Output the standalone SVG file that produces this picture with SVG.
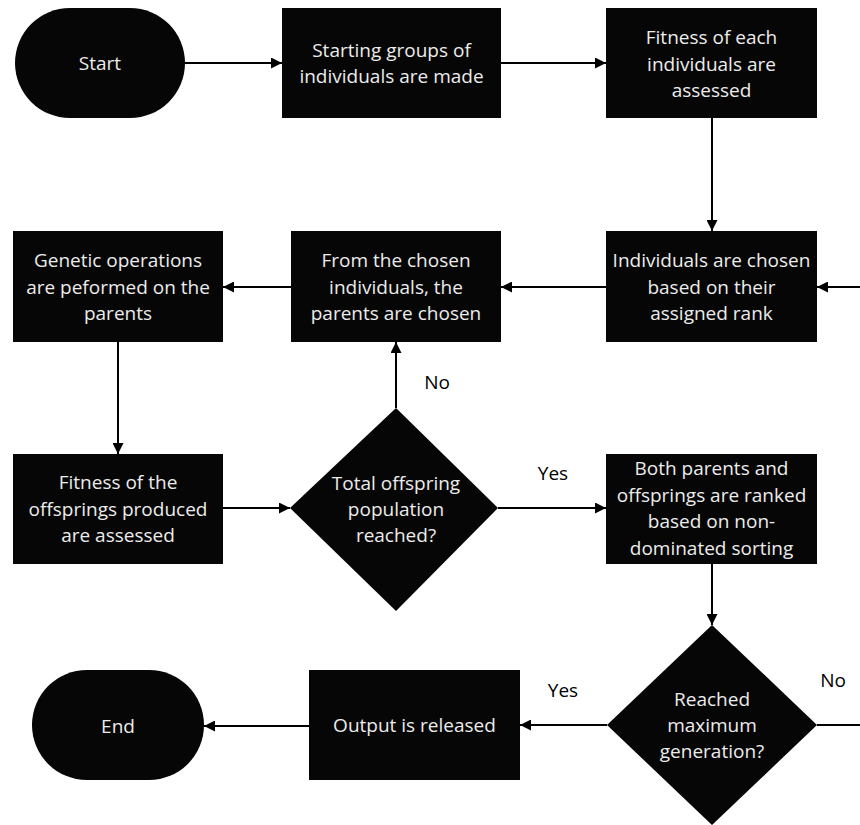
<svg xmlns="http://www.w3.org/2000/svg" width="860" height="825" viewBox="0 0 860 825">
  <style>
    .shape { fill: #060606; }
    .label { fill: #ececec; font-family: "Open Sans", "Liberation Sans", sans-serif; font-size: 19px; text-anchor: middle; }
    .edge { fill: none; stroke: #000; stroke-width: 2; }
    .tag { fill: #000; font-family: "Open Sans", "Liberation Sans", sans-serif; font-size: 19px; text-anchor: middle; }
  </style>
  <defs>
    <marker id="arrow" viewBox="0 0 10 10" refX="10" refY="5" markerWidth="5.5" markerHeight="5.5" orient="auto" markerUnits="strokeWidth">
      <path d="M0,0 L10,5 L0,10 z" fill="#000"/>
    </marker>
  </defs>
  <rect width="860" height="825" fill="#fff"/>

  <!-- connectors -->
  <g id="connectors">
    <line class="edge" x1="185" y1="63" x2="282" y2="63" marker-end="url(#arrow)"/>
    <line class="edge" x1="501" y1="63" x2="606" y2="63" marker-end="url(#arrow)"/>
    <line class="edge" x1="712" y1="118" x2="712" y2="231" marker-end="url(#arrow)"/>
    <line class="edge" x1="860" y1="287" x2="817" y2="287" marker-end="url(#arrow)"/>
    <line class="edge" x1="606" y1="287" x2="501" y2="287" marker-end="url(#arrow)"/>
    <line class="edge" x1="291" y1="287" x2="223" y2="287" marker-end="url(#arrow)"/>
    <line class="edge" x1="118" y1="342" x2="118" y2="454" marker-end="url(#arrow)"/>
    <line class="edge" x1="223" y1="508" x2="290" y2="508" marker-end="url(#arrow)"/>
    <line class="edge" x1="396" y1="408" x2="396" y2="342" marker-end="url(#arrow)"/>
    <line class="edge" x1="498" y1="508" x2="606" y2="508" marker-end="url(#arrow)"/>
    <line class="edge" x1="712" y1="564" x2="712" y2="625" marker-end="url(#arrow)"/>
    <line class="edge" x1="607" y1="725" x2="520" y2="725" marker-end="url(#arrow)"/>
    <line class="edge" x1="309" y1="726" x2="204" y2="726" marker-end="url(#arrow)"/>
    <line class="edge" x1="817" y1="725" x2="860" y2="725"/>
    <text class="tag" x="437" y="389">No</text>
    <text class="tag" x="553" y="480">Yes</text>
    <text class="tag" x="563" y="697">Yes</text>
    <text class="tag" x="833" y="687">No</text>
  </g>

  <g id="start">
    <rect class="shape" x="15" y="8" width="170" height="110" rx="55" ry="55"/>
    <text class="label" x="100" y="70">Start</text>
  </g>

  <g id="init-population">
    <rect class="shape" x="282" y="8" width="219" height="110"/>
    <text class="label" x="391.5" y="57">Starting groups of<tspan x="391.5" dy="26">individuals are made</tspan></text>
  </g>

  <g id="evaluate-fitness">
    <rect class="shape" x="606" y="8" width="211" height="110"/>
    <text class="label" x="711.5" y="44">Fitness of each<tspan x="711.5" dy="26.5">individuals are</tspan><tspan x="711.5" dy="26.5">assessed</tspan></text>
  </g>

  <g id="rank-selection">
    <rect class="shape" x="606" y="231" width="211" height="111"/>
    <text class="label" x="711.5" y="267">Individuals are chosen<tspan x="711.5" dy="26.5">based on their</tspan><tspan x="711.5" dy="26.5">assigned rank</tspan></text>
  </g>

  <g id="parent-selection">
    <rect class="shape" x="291" y="231" width="210" height="111"/>
    <text class="label" x="396" y="267">From the chosen<tspan x="396" dy="26.5">individuals, the</tspan><tspan x="396" dy="26.5">parents are chosen</tspan></text>
  </g>

  <g id="genetic-operations">
    <rect class="shape" x="13" y="231" width="210" height="111"/>
    <text class="label" x="118" y="267">Genetic operations<tspan x="118" dy="26.5">are peformed on the</tspan><tspan x="118" dy="26.5">parents</tspan></text>
  </g>

  <g id="offspring-fitness">
    <rect class="shape" x="13" y="454" width="210" height="110"/>
    <text class="label" x="118" y="489">Fitness of the<tspan x="118" dy="26.5">offsprings produced</tspan><tspan x="118" dy="26.5">are assessed</tspan></text>
  </g>

  <g id="offspring-check">
    <polygon class="shape" points="396,408 498,508 396,611 290,508"/>
    <text class="label" x="396" y="490">Total offspring<tspan x="396" dy="26">population</tspan><tspan x="396" dy="26">reached?</tspan></text>
  </g>

  <g id="non-dominated-sort">
    <rect class="shape" x="606" y="454" width="211" height="110"/>
    <text class="label" x="711.5" y="475">Both parents and<tspan x="711.5" dy="26.7">offsprings are ranked</tspan><tspan x="711.5" dy="26.7">based on non-</tspan><tspan x="711.5" dy="26.7">dominated sorting</tspan></text>
  </g>

  <g id="generation-check">
    <polygon class="shape" points="712,625 817,725 712,825 607,725"/>
    <text class="label" x="712" y="706">Reached<tspan x="712" dy="26">maximum</tspan><tspan x="712" dy="26">generation?</tspan></text>
  </g>

  <g id="output">
    <rect class="shape" x="309" y="670" width="211" height="110"/>
    <text class="label" x="414.5" y="732">Output is released</text>
  </g>

  <g id="end">
    <rect class="shape" x="32" y="670" width="172" height="110" rx="55" ry="55"/>
    <text class="label" x="118" y="733">End</text>
  </g>
</svg>
